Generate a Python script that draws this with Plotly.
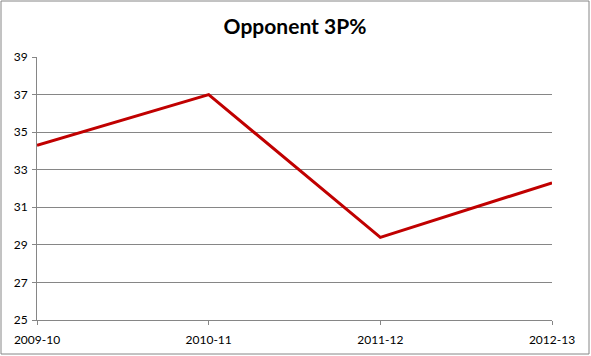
import plotly.graph_objects as go

seasons = ["2009-10", "2010-11", "2011-12", "2012-13"]
opp_3p = [34.3, 37.0, 29.4, 32.3]
y_ticks = [25, 27, 29, 31, 33, 35, 37, 39]

W, H = 591, 356
L, R, T, B = 37, 39, 57, 36
pw, ph = W - L - R, H - T - B

def px_x(p):
    return (p - L) / pw

def px_y(p):
    return (H - B - p) / ph

fig = go.Figure()
fig.add_trace(go.Scatter(
    x=list(range(len(seasons))), y=opp_3p, mode="lines",
    line=dict(color="#C00000", width=3), hoverinfo="x+y",
))

grid = "#868686"
fig.update_layout(
    width=W, height=H,
    margin=dict(l=L, r=R, t=T, b=B, autoexpand=False),
    paper_bgcolor="white", plot_bgcolor="white",
    showlegend=False,
    title=dict(text="<b>Opponent 3P%</b>", x=295 / W, xanchor="center",
               y=1 - 27 / H, yanchor="middle",
               font=dict(family="Lato, Carlito, sans-serif", size=21, color="black")),
    font=dict(family="Lato, Carlito, sans-serif", size=12, color="black"),
    xaxis=dict(
        range=[0, len(seasons) - 1], tickmode="array",
        tickvals=list(range(len(seasons))), ticktext=seasons,
        showgrid=False, showline=True, linecolor=grid, linewidth=1,
        ticks="outside", ticklen=4, tickcolor=grid, zeroline=False,
        fixedrange=True, automargin=False, ticklabelstandoff=5,
    ),
    yaxis=dict(
        range=[25, 39], tickmode="array", tickvals=y_ticks,
        showgrid=True, gridcolor=grid, gridwidth=1,
        showline=True, linecolor=grid, linewidth=1,
        ticks="outside", ticklen=4, tickcolor=grid, zeroline=False,
        fixedrange=True, automargin=False, ticklabelstandoff=2,
    ),
    shapes=[dict(
        type="rect", xref="paper", yref="paper",
        x0=px_x(1), x1=px_x(589), y0=px_y(354), y1=px_y(1),
        line=dict(color=grid, width=1), layer="below",
    )],
)

fig.write_html("out.html", config={"displayModeBar": False},
               post_script="document.body.style.margin='0';document.body.style.padding='0';")
